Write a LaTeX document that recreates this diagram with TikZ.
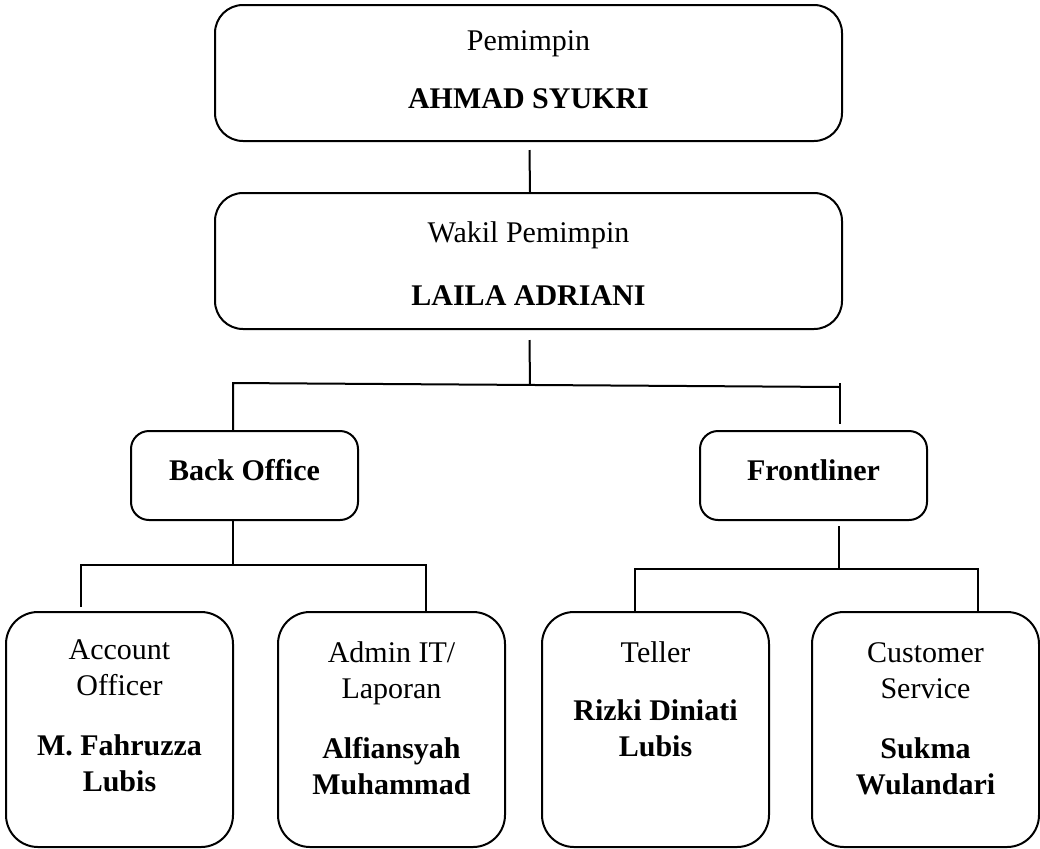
\documentclass[tikz,border=0pt]{standalone}
\usepackage{fontspec}
\setmainfont{Liberation Serif}
\usetikzlibrary{positioning}

\begin{document}
\begin{tikzpicture}[
        x=0.5pt, y=-0.5pt,
        node distance=20pt,
        chief/.style={rectangle, draw, line width=1pt, rounded corners=14pt, minimum width=313.5pt, minimum height=68pt},
        section/.style={rectangle, draw, line width=1pt, rounded corners=9pt, minimum width=113.5pt, minimum height=44.5pt},
        staff/.style={rectangle, draw, line width=1pt, rounded corners=16pt, minimum width=113.5pt, minimum height=117.5pt},
        caption/.style={inner sep=0pt, align=center, font=\fontsize{15}{18}\selectfont},
        link/.style={draw, line width=1pt}
    ]
    \useasboundingbox (0,0) rectangle (1040,848);

    % Pimpinan
    \node [chief] (pemimpin) at (528.5,73) {};
    \node [chief, below=25pt of pemimpin] (wakil) {};
    \node [caption, below=10.4pt of pemimpin.north] (pemimpinlbl) {\strut Pemimpin\\[11pt]\textbf{AHMAD SYUKRI}};
    \node [caption, below=12.4pt of wakil.north] (wakillbl) {\strut Wakil Pemimpin\\[13.5pt]\textbf{LAILA ADRIANI}};

    % Bagian
    \node [section] (backoffice) at (244.5,475.5) {};
    \node [section, right=170pt of backoffice] (frontliner) {};
    \node [caption, below=12.4pt of backoffice.north] (backofficelbl) {\strut\textbf{Back Office}};
    \node [caption, below=12.4pt of frontliner.north] (frontlinerlbl) {\strut\textbf{Frontliner}};

    % Staf
    \node [staff] (ao) at (119.5,729.5) {};
    \node [staff, right=21.5pt of ao] (admin) {};
    \node [staff, right=17.5pt of admin] (teller) {};
    \node [staff, right=20.5pt of teller] (cs) {};
    \node [caption, below=11.4pt of ao.north] (aolbl) {\strut Account\\Officer\\[12pt]\textbf{M. Fahruzza}\\\textbf{Lubis}};
    \node [caption, below=12.9pt of admin.north] (adminlbl) {\strut Admin IT/\\Laporan\\[12pt]\textbf{Alfiansyah}\\\textbf{Muhammad}};
    \node [caption, below=12.9pt of teller.north] (tellerlbl) {\strut Teller\\[11pt]\textbf{Rizki Diniati}\\\textbf{Lubis}};
    \node [caption, below=12.9pt of cs.north] (cslbl) {\strut Customer\\Service\\[12pt]\textbf{Sukma}\\\textbf{Wulandari}};

    % Garis
    \coordinate (busL) at (233,383);
    \coordinate (busR) at (840,387);
    \coordinate (busM) at (530,385);
    \coordinate (boM) at (233,565);
    \coordinate (boL) at (81,565);
    \coordinate (boR) at (426,565);
    \coordinate (flM) at (839,569);
    \coordinate (flL) at (635,569);
    \coordinate (flR) at (978,569);

    \draw [link] (pemimpin.south) ++(1,8) -- (wakil.north -| busM);
    \draw [link] (wakil.south) ++(1,10) -- (busM);
    \draw [link] (busL |- backoffice.north) -- (busL) -- (busR);
    \draw [link, shorten >=3pt] (busR) ++(0,-4) -- (busR |- frontliner.north);

    \draw [link] (boM |- backoffice.south) -- (boM);
    \draw [link, shorten <=2pt] (boL |- ao.north) -- (boL) -- (boR) -- (boR |- admin.north);

    \draw [link] (flM |- frontliner.south) ++(0,5) -- (flM);
    \draw [link] (flL |- teller.north) -- (flL) -- (flR) -- (flR |- cs.north);
\end{tikzpicture}
\end{document}
